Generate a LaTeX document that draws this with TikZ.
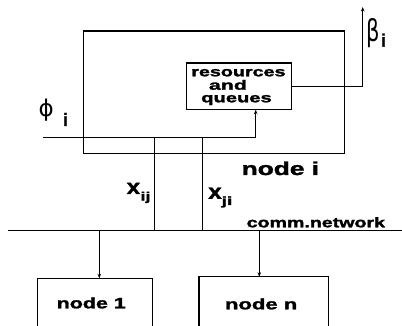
\documentclass[tikz,border=0pt]{standalone}
\usepackage{fontspec}
\usepackage{graphicx}
\setmainfont{Liberation Sans}[BoldFeatures={FakeBold=1.6}]
\newfontfamily\gk{DejaVu Sans}
\usetikzlibrary{arrows.meta}
\newcommand{\fsz}[1]{\fontsize{#1pt}{#1pt}\selectfont}
\tikzset{
  lbl/.style={inner sep=0pt, outer sep=0pt, anchor=base west, font=\bfseries},
  box/.style={draw, line width=1.3pt, inner sep=0pt, outer sep=0pt},
  wire/.style={line width=1pt},
  arr/.style={wire, -{Stealth[length=4.5pt,width=3.5pt]}},
}
\begin{document}
\begin{tikzpicture}[x=1pt,y=-1pt]
\fill[white] (0,0) rectangle (402,326);
\useasboundingbox (0,0) rectangle (402,326);

% boxes
\node[box, minimum width=261pt, minimum height=122.3pt, anchor=north west] (main) at (83.3,31) {};
\node[box, line width=1.5pt, minimum width=105pt, minimum height=46.7pt, anchor=north west] (res) at (186.3,63) {};
\node[inner sep=0pt, outer sep=0pt, minimum width=115pt, minimum height=47.7pt, anchor=north west] (n1) at (37.3,278.3) {};
\node[inner sep=0pt, outer sep=0pt, minimum width=129.3pt, minimum height=49.3pt, anchor=north west] (nn) at (199,276.7) {};
\draw[line width=1.3pt] (n1.south west) |- (n1.north east) -- (n1.south east);
\draw[line width=1.3pt] (nn.south west) |- (nn.north east) -- (nn.south east);

% texts in resources box
\node[lbl] (t1) at (191.3,76.3) {\fsz{13.5}\scalebox{1.46}[1]{resources}};
\node[lbl] (t2) at (209,89.7) {\fsz{13.5}\scalebox{1.58}[1]{and}};
\node[lbl] (t3) at (201.3,102.3) {\fsz{13.5}\scalebox{1.49}[1]{queues}};

% other labels
\node[lbl] (nodei) at (241.7,175) {\fsz{18.5}\scalebox{1.42}[1]{node i}};
\node[lbl] (comm) at (246.7,227.3) {\fsz{14}\scalebox{1.40}[1]{comm.network}};
\node[lbl] (l1) at (56.7,308.3) {\fsz{15}\scalebox{1.43}[1]{node 1}};
\node[lbl] (ln) at (225,309.3) {\fsz{15}\scalebox{1.47}[1]{node n}};

\node[lbl] (xij) at (126.7,194) {\fsz{21}\scalebox{1.15}[1]{x}};
\node[lbl] (xijs) at (140.5,200.5) {\fsz{12}\scalebox{1.5}[1]{ij}};
\node[lbl] (xji) at (208.3,198.8) {\fsz{21}\scalebox{1.15}[1]{x}};
\node[lbl] (xjis) at (221.7,205) {\fsz{12}\scalebox{1.6}[1]{ji}};

\node[lbl, font=\gk] (phi) at (38.5,117) {\fsz{23}ϕ};
\node[lbl] (phii) at (63,126) {\fsz{18}i};
\node[lbl, font=\gk] (beta) at (366.5,41.5) {\fsz{30}\scalebox{0.7}[1]{β}};
\node[lbl] (betai) at (381,46.7) {\fsz{18}i};

% network
\coordinate (netL) at (8,230.7);
\coordinate (netR) at (402,230.7);
\draw[wire, line width=1.2pt] (netL) -- (netR);

% flows
\coordinate (phiL) at (43.3,137.7);
\coordinate (phiX) at (255.7,137.7);
\draw[arr] (phiL) -- (phiX) -- (phiX |- res.south);
\coordinate (bt) at (362.7,7);
\draw[arr] (res.east) -| (bt);

\coordinate (aij) at (154,137.7);
\coordinate (aji) at (202.3,137.7);
\draw[wire] (aij) -- (aij |- netL);
\draw[wire] (aji) -- (aji |- netL);

\coordinate (d1) at (99.3,230.7);
\coordinate (dn) at (259.3,230.7);
\draw[arr] (d1) -- (d1 |- n1.north);
\draw[arr] (dn) -- (dn |- nn.north);
\end{tikzpicture}
\end{document}
